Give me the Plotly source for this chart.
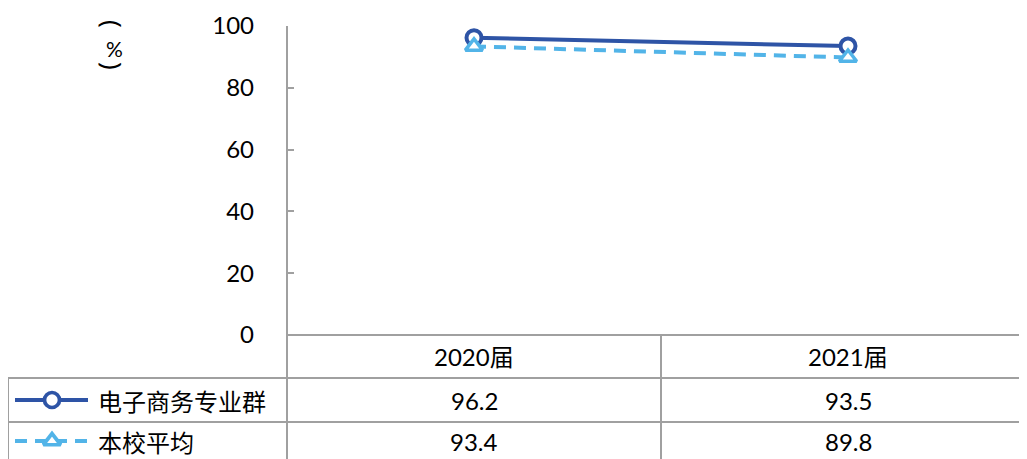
import plotly.graph_objects as go

categories = ["2020届", "2021届"]
series_names = ["电子商务专业群", "本校平均"]
major_values = [96.2, 93.5]
school_values = [93.4, 89.8]
y_ticks = [0, 20, 40, 60, 80, 100]

# page body has an 8px margin; figure spans window x 8..1027, y 8..459
OX, OY = 8, 8
W, H = 1027 - OX, 459 - OY
DARK = "#2E54A6"
LIGHT = "#52B4E8"
GRID = "#A0A0A0"
FONT = "Lato, 'Noto Sans CJK SC', sans-serif"
CJK = "'Noto Sans CJK SC', sans-serif"

# target window-pixel positions
x_left = 287
cat_w = 374
y_top, y_zero = 26, 335

def px(x):
    return (x - OX) / W

def py(y):
    return (H - (y - OY)) / H

fig = go.Figure()
xs = list(range(len(categories)))
fig.add_trace(go.Scatter(
    x=xs, y=major_values, mode="lines+markers", name=series_names[0],
    line=dict(color=DARK, width=4),
    marker=dict(symbol="circle", size=15, color="white", line=dict(color=DARK, width=4)),
    showlegend=False))
fig.add_trace(go.Scatter(
    x=xs, y=school_values, mode="lines+markers", name=series_names[1],
    line=dict(color=LIGHT, width=4, dash="12px,8px"),
    marker=dict(symbol="triangle-up", size=15, color="white", line=dict(color=LIGHT, width=3.5)),
    showlegend=False))

# legend keys in the data table (separate full-page pixel axis)
row_y = [400, 441]
def key(yrow, color, dash, symbol):
    fig.add_trace(go.Scatter(x=[15 - OX, 88 - OX], y=[yrow - OY, yrow - OY], mode="lines",
                             line=dict(color=color, width=4, dash=dash), xaxis="x2", yaxis="y2",
                             showlegend=False, hoverinfo="skip"))
    fig.add_trace(go.Scatter(x=[52 - OX], y=[yrow - OY], mode="markers",
                             marker=dict(symbol=symbol, size=15, color="white", line=dict(color=color, width=3.7)),
                             xaxis="x2", yaxis="y2", showlegend=False, hoverinfo="skip"))
key(row_y[0], DARK, "solid", "circle")
key(row_y[1], LIGHT, "12px,8px", "triangle-up")

# table lines
shapes = []
def hline(y, x0, x1):
    shapes.append(dict(type="line", xref="paper", yref="paper", x0=px(x0), x1=px(x1), y0=py(y), y1=py(y),
                       line=dict(color=GRID, width=2), layer="below"))
def vline(x, y0, y1):
    shapes.append(dict(type="line", xref="paper", yref="paper", x0=px(x), x1=px(x), y0=py(y0), y1=py(y1),
                       line=dict(color=GRID, width=2), layer="below"))
hline(y_zero, x_left, 1040)
hline(378, 8, 1040)
hline(422, 8, 1040)
vline(8, 378, 470)
vline(x_left, y_top, 470)
vline(x_left + cat_w, y_zero, 470)

annotations = []
def ann(x, y, text, size, family, xref="x", xanchor="center", **kw):
    annotations.append(dict(x=x, y=py(y), xref=xref, yref="paper", text=text, showarrow=False,
                            xanchor=xanchor, yanchor="middle",
                            font=dict(size=size, family=family, color="#000"), **kw))
for i, c in enumerate(categories):
    ann(i, 356, c, 24, FONT)
for i, v in enumerate(major_values):
    ann(i, row_y[0], f"{v:.1f}", 24, FONT)
for i, v in enumerate(school_values):
    ann(i, row_y[1], f"{v:.1f}", 24, FONT)
for name, ry in zip(series_names, row_y):
    ann(px(96), ry, name, 24, CJK, xref="paper", xanchor="left")
ann(px(113), 24, "(", 26, "Noto Sans", xref="paper", textangle=90)
ann(px(114), 48, "%", 21, FONT, xref="paper")
ann(px(113), 66, ")", 26, "Noto Sans", xref="paper", textangle=90)

x0_range = -0.5
x1_range = -0.5 + (W - (x_left - OX)) / cat_w
fig.update_layout(
    width=W, height=H, margin=dict(l=0, r=0, t=0, b=0, autoexpand=False),
    plot_bgcolor="rgba(0,0,0,0)", paper_bgcolor="white",
    xaxis=dict(domain=[px(x_left), 1], range=[x0_range, x1_range], showticklabels=False,
               showgrid=False, zeroline=False, showline=False, ticks="", automargin=False),
    yaxis=dict(domain=[py(y_zero), py(y_top)], range=[0, 100], tickvals=y_ticks,
               showgrid=False, zeroline=False, showline=False, ticks="inside", ticklen=7,
               tickcolor=GRID, tickwidth=2, ticklabelstandoff=32, automargin=False,
               tickfont=dict(size=24, family=FONT, color="#000")),
    xaxis2=dict(domain=[0, 1], range=[0, W], visible=False, anchor="y2", automargin=False),
    yaxis2=dict(domain=[0, 1], range=[H, 0], visible=False, anchor="x2", automargin=False),
    shapes=shapes, annotations=annotations,
)
fig.write_html("out.html")
